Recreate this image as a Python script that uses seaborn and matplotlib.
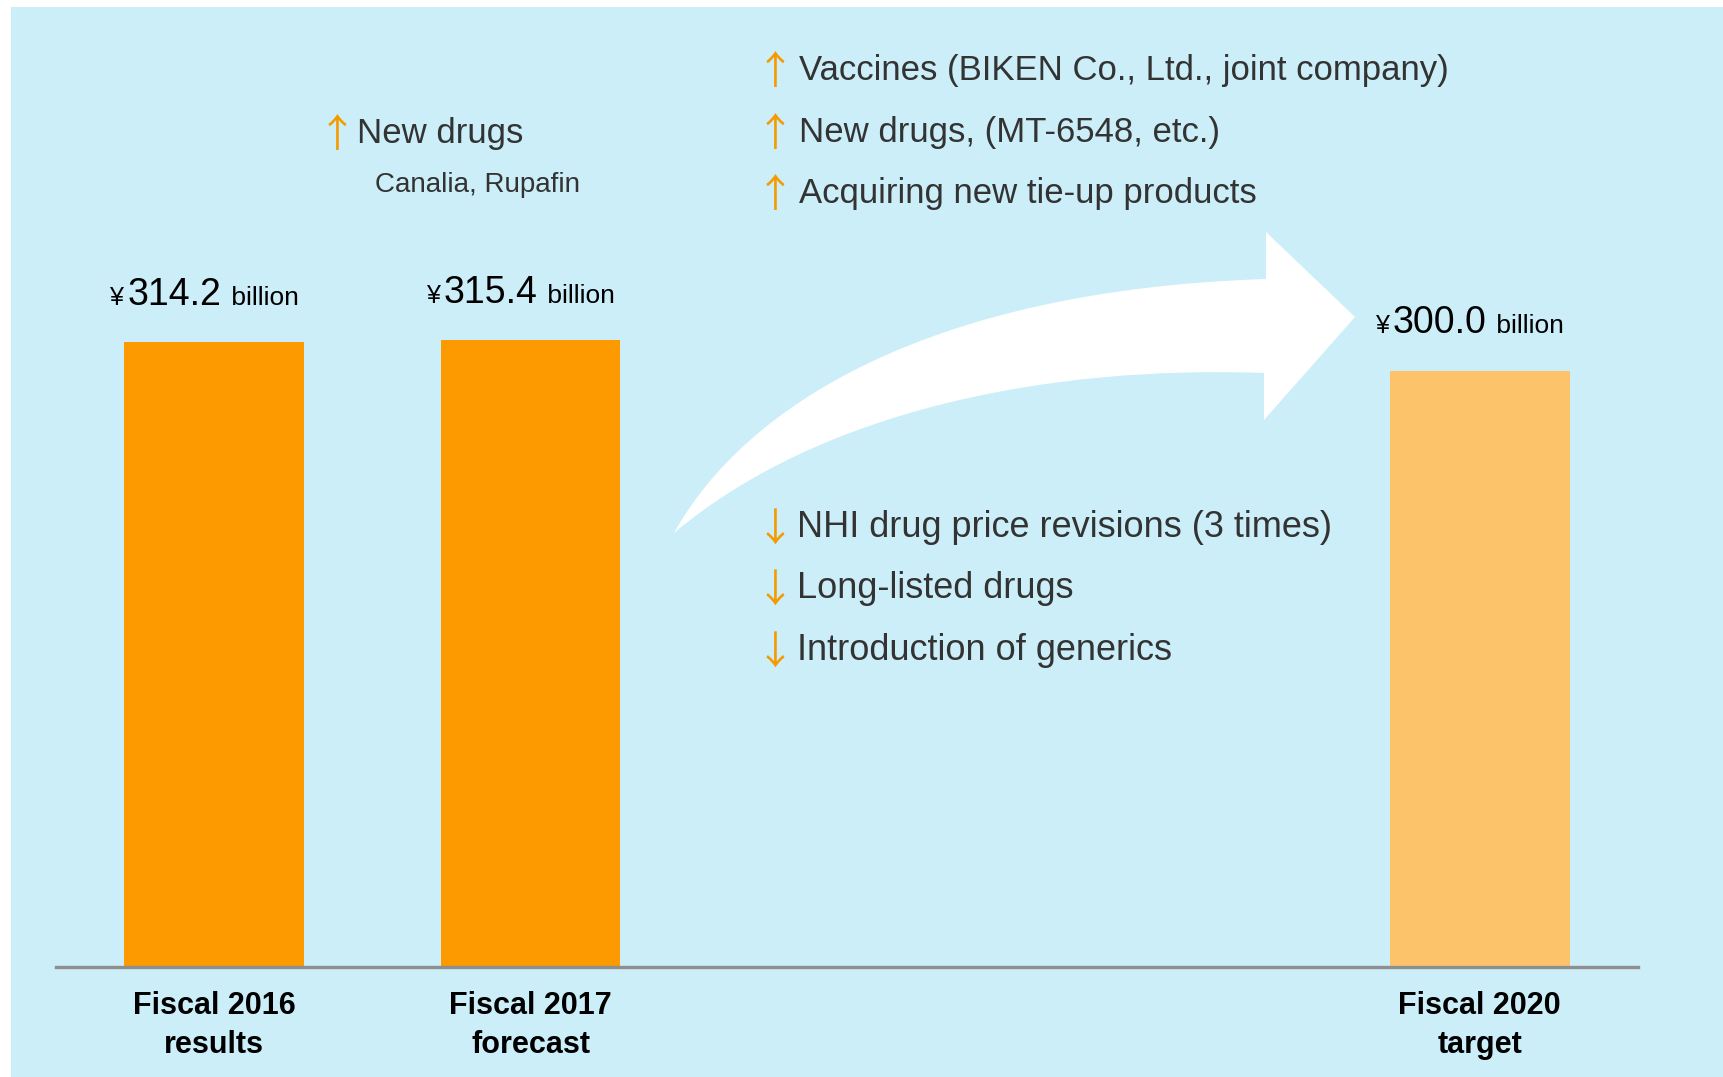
import matplotlib
matplotlib.use("Agg")
import matplotlib.pyplot as plt
from matplotlib.patches import Rectangle, PathPatch
from matplotlib.path import Path
from matplotlib.transforms import Affine2D
from matplotlib.offsetbox import TextArea, HPacker, AnnotationBbox
import seaborn as sns
import pandas as pd

# ---------------- data ----------------
categories = ["Fiscal 2016\nresults", "Fiscal 2017\nforecast", "Fiscal 2020\ntarget"]
values = [314.2, 315.4, 300.0]
slot_order = ["Fiscal 2016\nresults", "Fiscal 2017\nforecast", "", " ", "Fiscal 2020\ntarget"]
bar_colors = ["#FC9A00", "#FC9A00", "#FDC36A"]
up_items = ["Vaccines (BIKEN Co., Ltd., joint company)",
            "New drugs, (MT-6548, etc.)",
            "Acquiring new tie-up products"]
down_items = ["NHI drug price revisions (3 times)",
              "Long-listed drugs",
              "Introduction of generics"]
left_note = "New drugs"
left_note_sub = "Canalia, Rupafin"

# ---------------- style ----------------
sns.set_theme(style="white")
plt.rcParams["font.family"] = ["Liberation Sans", "DejaVu Sans"]

W, H = 1723, 1077
BG = "#CBEEF8"
TXT = "#333333"
ARROW_C = "#F59A00"

fig = plt.figure(figsize=(W / 100, H / 100), dpi=100, facecolor="white")
px = Affine2D().scale(1 / W, -1 / H).translate(0, 1) + fig.transFigure

# light-blue panel
fig.add_artist(Rectangle((11, 7), W - 11, H - 7, transform=px,
                         facecolor=BG, edgecolor="none", zorder=-10))

ax_left, ax_right, ax_top, ax_bot = 56, 1638, 8, 967
ax = fig.add_axes([ax_left / W, 1 - ax_bot / H, (ax_right - ax_left) / W, (ax_bot - ax_top) / H])
ax.set_facecolor("none")

df = pd.DataFrame({"cat": categories, "value": values})
sns.barplot(data=df, x="cat", y="value", hue="cat", order=slot_order,
            hue_order=categories, palette=dict(zip(categories, bar_colors)),
            width=0.568, legend=False, ax=ax, saturation=1,
            linewidth=0, edgecolor="none")

ppu = 1.988  # pixels per unit
ax.set_ylim(0, (ax_bot - ax_top) / ppu)
ax.set_xlim(-0.5, 4.5)
ax.set_xlabel("")
ax.set_ylabel("")
ax.set_yticks([])
for s in ["top", "left", "right"]:
    ax.spines[s].set_visible(False)
ax.spines["bottom"].set_color("#8E8E8E")
ax.spines["bottom"].set_linewidth(2.4)
ax.tick_params(axis="x", length=0, pad=17)
for lab in ax.get_xticklabels():
    lab.set_fontweight("bold")
    lab.set_fontsize(22)
    lab.set_color("black")
    lab.set_linespacing(1.4)

# value labels with mixed sizes
for cont, v in zip(ax.containers, values):
    for bar in cont:
        if bar.get_height() != bar.get_height() or bar.get_height() == 0:
            continue
        xc = bar.get_x() + bar.get_width() / 2
        parts = [TextArea("¥", textprops=dict(fontsize=18, color="black")),
                 TextArea(f"{v:.1f}", textprops=dict(fontsize=27, color="black")),
                 TextArea(" billion", textprops=dict(fontsize=19, color="black"))]
        pack = HPacker(children=parts, align="baseline", pad=0, sep=2)
        ab = AnnotationBbox(pack, (xc, bar.get_height()), xycoords="data",
                            xybox=(-7, 21), boxcoords="offset points",
                            box_alignment=(0.5, 0), frameon=False, pad=0)
        ax.add_artist(ab)

arrow_fam = ["Noto Sans CJK JP", "DejaVu Sans"]

def put(x, y, s, **kw):
    fig.text(x, y, s, transform=px, ha="left", va="baseline", **kw)

def arrow(xc, y, up=True):
    fig.text(xc, y, "↑" if up else "↓", transform=px, ha="center", va="baseline",
             fontsize=28, color=ARROW_C, family=arrow_fam)

# upper-right list
for item, yb in zip(up_items, [80, 142, 203]):
    arrow(775, yb + 4, True)
    put(799, yb, item, fontsize=25, color=TXT)

# lower list
for item, yb in zip(down_items, [537, 598, 660]):
    arrow(775, yb + 4, False)
    put(797, yb, item, fontsize=26, color=TXT)

# left note
arrow(337, 147, True)
put(357, 143, left_note, fontsize=25, color=TXT)
put(375, 192, left_note_sub, fontsize=20, color=TXT)

# white curved arrow (decorative)
verts = [(674, 533),
         (745, 405), (930, 290), (1266, 279),
         (1266, 232), (1355, 317), (1264, 420), (1264, 373),
         (1050, 365), (820, 410), (674, 533),
         (674, 533)]
codes = [Path.MOVETO,
         Path.CURVE4, Path.CURVE4, Path.CURVE4,
         Path.LINETO, Path.LINETO, Path.LINETO, Path.LINETO,
         Path.CURVE4, Path.CURVE4, Path.CURVE4,
         Path.CLOSEPOLY]
fig.add_artist(PathPatch(Path(verts, codes), transform=px,
                         facecolor="white", edgecolor="none", zorder=1))

fig.savefig("out.png", dpi=100, facecolor="white")
